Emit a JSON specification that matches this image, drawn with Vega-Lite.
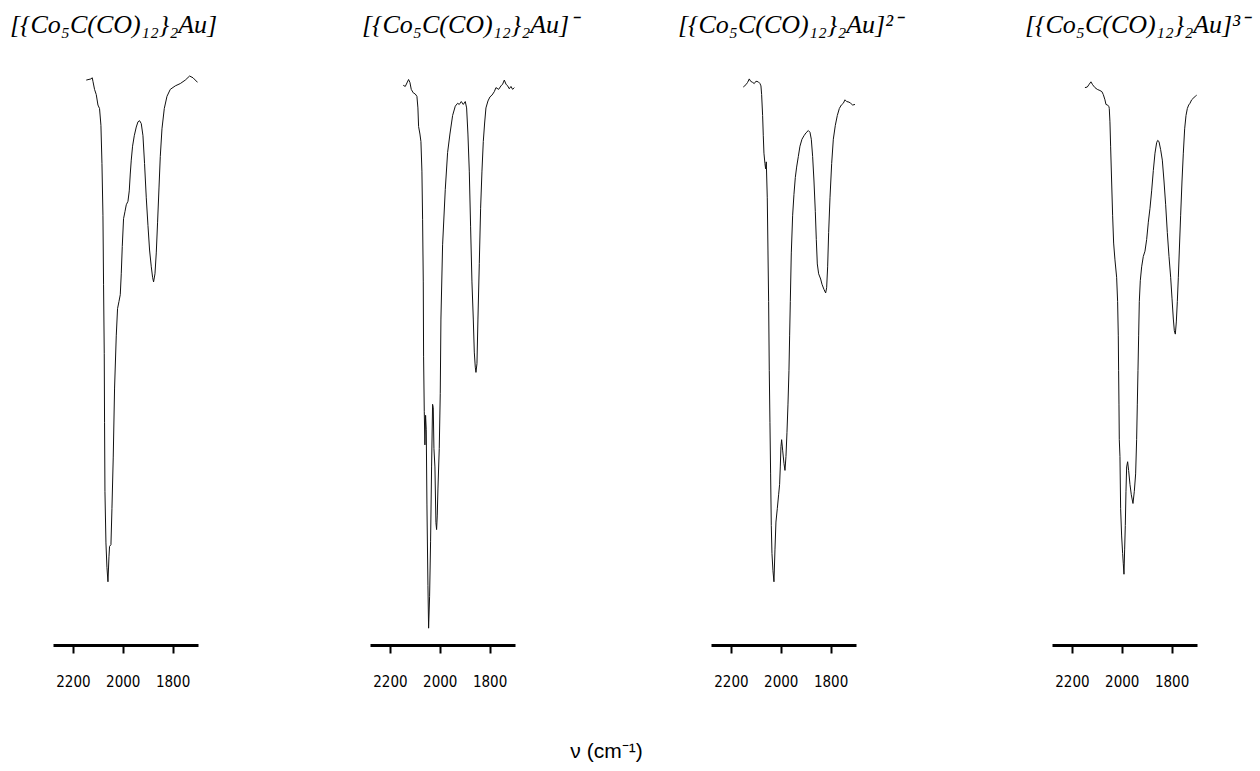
{
  "$schema": "https://vega.github.io/schema/vega-lite/v6.json",
  "background": "white",
  "padding": {"left": 10, "top": 12, "right": 5, "bottom": 5},
  "bounds": "flush",
  "spacing": 0,
  "title": {"text": "ν (cm⁻¹)", "orient": "bottom", "anchor": "middle", "frame": "bounds", "font": "Liberation Sans", "fontSize": 21, "fontStyle": "normal", "fontWeight": "normal", "color": "black", "offset": 52, "dx": -23},
  "config": {
    "view": {"stroke": null},
    "title": {"font": "Liberation Serif", "fontStyle": "italic", "fontWeight": "normal", "fontSize": 26, "color": "black", "anchor": "start", "frame": "group", "offset": 27},
    "axisX": {"domainColor": "black", "domainWidth": 3, "tickColor": "black", "tickWidth": 2, "tickSize": 8, "labelFont": "DejaVu Sans Condensed, Liberation Sans Narrow, Arial Narrow, Liberation Sans, sans-serif", "labelFontSize": 15, "labelColor": "black", "labelPadding": 21, "format": "d", "grid": false, "values": [2200, 2000, 1800], "title": null}
  },
  "data": {"values": [
    {"p":1,"wn":2146.6,"t":97.4},{"p":1,"wn":2127.7,"t":97.6},{"p":1,"wn":2122.5,"t":97.8},{"p":1,"wn":2119.7,"t":97.2},{"p":1,"wn":2113.3,"t":95.8},{"p":1,"wn":2106.4,"t":94.9},{"p":1,"wn":2099.6,"t":93.1},{"p":1,"wn":2093.2,"t":92.5},{"p":1,"wn":2087.6,"t":89.6},{"p":1,"wn":2083.5,"t":83.0},{"p":1,"wn":2079.5,"t":74.1},{"p":1,"wn":2077.1,"t":62.2},{"p":1,"wn":2074.3,"t":50.3},{"p":1,"wn":2073.1,"t":38.4},{"p":1,"wn":2071.5,"t":26.5},{"p":1,"wn":2067.5,"t":17.6},{"p":1,"wn":2063.5,"t":13.4},{"p":1,"wn":2059.4,"t":10.9},{"p":1,"wn":2055.4,"t":15.2},{"p":1,"wn":2053.0,"t":17.0},{"p":1,"wn":2047.4,"t":17.3},{"p":1,"wn":2043.4,"t":23.5},{"p":1,"wn":2038.2,"t":32.4},{"p":1,"wn":2032.9,"t":44.3},{"p":1,"wn":2026.1,"t":53.3},{"p":1,"wn":2020.9,"t":58.0},{"p":1,"wn":2015.3,"t":59.2},{"p":1,"wn":2010.0,"t":60.4},{"p":1,"wn":2006.0,"t":64.0},{"p":1,"wn":2002.0,"t":68.7},{"p":1,"wn":1996.8,"t":73.5},{"p":1,"wn":1991.2,"t":74.7},{"p":1,"wn":1985.9,"t":75.9},{"p":1,"wn":1979.1,"t":76.5},{"p":1,"wn":1973.9,"t":78.3},{"p":1,"wn":1969.9,"t":81.2},{"p":1,"wn":1965.9,"t":83.6},{"p":1,"wn":1960.6,"t":86.0},{"p":1,"wn":1953.8,"t":87.8},{"p":1,"wn":1945.8,"t":89.3},{"p":1,"wn":1939.0,"t":90.2},{"p":1,"wn":1932.5,"t":90.4},{"p":1,"wn":1925.7,"t":89.9},{"p":1,"wn":1918.9,"t":87.8},{"p":1,"wn":1912.5,"t":83.0},{"p":1,"wn":1905.6,"t":77.1},{"p":1,"wn":1898.8,"t":72.3},{"p":1,"wn":1892.4,"t":68.1},{"p":1,"wn":1885.5,"t":65.2},{"p":1,"wn":1880.3,"t":63.4},{"p":1,"wn":1876.3,"t":62.6},{"p":1,"wn":1870.7,"t":64.0},{"p":1,"wn":1865.5,"t":67.6},{"p":1,"wn":1860.2,"t":72.9},{"p":1,"wn":1854.6,"t":78.8},{"p":1,"wn":1849.4,"t":84.2},{"p":1,"wn":1842.6,"t":89.0},{"p":1,"wn":1833.3,"t":92.5},{"p":1,"wn":1822.5,"t":94.6},{"p":1,"wn":1809.2,"t":95.8},{"p":1,"wn":1789.2,"t":96.4},{"p":1,"wn":1769.1,"t":96.8},{"p":1,"wn":1749.0,"t":97.4},{"p":1,"wn":1731.7,"t":98.1},{"p":1,"wn":1718.1,"t":97.8},{"p":1,"wn":1699.6,"t":97.0},
    {"p":2,"wn":2146.6,"t":96.5},{"p":2,"wn":2138.5,"t":96.3},{"p":2,"wn":2131.8,"t":96.9},{"p":2,"wn":2125.2,"t":97.5},{"p":2,"wn":2119.8,"t":97.0},{"p":2,"wn":2114.4,"t":95.8},{"p":2,"wn":2106.4,"t":95.2},{"p":2,"wn":2098.4,"t":95.0},{"p":2,"wn":2091.7,"t":94.6},{"p":2,"wn":2087.7,"t":92.6},{"p":2,"wn":2085.0,"t":89.4},{"p":2,"wn":2079.6,"t":88.1},{"p":2,"wn":2075.6,"t":86.8},{"p":2,"wn":2071.6,"t":81.7},{"p":2,"wn":2068.9,"t":73.4},{"p":2,"wn":2066.2,"t":62.6},{"p":2,"wn":2064.9,"t":49.8},{"p":2,"wn":2062.2,"t":40.3},{"p":2,"wn":2059.6,"t":34.5},{"p":2,"wn":2056.9,"t":39.6},{"p":2,"wn":2054.2,"t":37.1},{"p":2,"wn":2051.5,"t":24.3},{"p":2,"wn":2047.5,"t":10.3},{"p":2,"wn":2044.8,"t":2.9},{"p":2,"wn":2040.8,"t":8.4},{"p":2,"wn":2036.8,"t":17.9},{"p":2,"wn":2032.8,"t":30.7},{"p":2,"wn":2028.8,"t":41.5},{"p":2,"wn":2026.1,"t":40.9},{"p":2,"wn":2023.4,"t":33.9},{"p":2,"wn":2019.4,"t":30.7},{"p":2,"wn":2015.4,"t":21.1},{"p":2,"wn":2012.7,"t":19.9},{"p":2,"wn":2010.0,"t":22.4},{"p":2,"wn":2007.3,"t":26.9},{"p":2,"wn":2002.0,"t":33.9},{"p":2,"wn":1998.0,"t":43.4},{"p":2,"wn":1995.3,"t":56.2},{"p":2,"wn":1988.6,"t":69.0},{"p":2,"wn":1977.9,"t":78.5},{"p":2,"wn":1968.5,"t":84.9},{"p":2,"wn":1959.2,"t":88.1},{"p":2,"wn":1948.4,"t":91.3},{"p":2,"wn":1937.7,"t":92.9},{"p":2,"wn":1928.4,"t":93.4},{"p":2,"wn":1921.7,"t":93.2},{"p":2,"wn":1913.6,"t":93.7},{"p":2,"wn":1905.6,"t":93.2},{"p":2,"wn":1897.6,"t":93.7},{"p":2,"wn":1892.2,"t":92.6},{"p":2,"wn":1886.9,"t":88.1},{"p":2,"wn":1881.5,"t":81.7},{"p":2,"wn":1876.2,"t":72.1},{"p":2,"wn":1870.8,"t":62.6},{"p":2,"wn":1865.4,"t":56.2},{"p":2,"wn":1861.4,"t":50.5},{"p":2,"wn":1857.4,"t":47.9},{"p":2,"wn":1854.7,"t":47.0},{"p":2,"wn":1850.7,"t":48.5},{"p":2,"wn":1846.7,"t":56.2},{"p":2,"wn":1841.3,"t":65.8},{"p":2,"wn":1836.0,"t":75.3},{"p":2,"wn":1830.6,"t":81.7},{"p":2,"wn":1825.3,"t":86.8},{"p":2,"wn":1819.9,"t":90.0},{"p":2,"wn":1814.6,"t":92.6},{"p":2,"wn":1806.5,"t":93.8},{"p":2,"wn":1798.5,"t":94.5},{"p":2,"wn":1790.5,"t":94.8},{"p":2,"wn":1781.1,"t":95.4},{"p":2,"wn":1774.4,"t":96.1},{"p":2,"wn":1763.7,"t":95.8},{"p":2,"wn":1754.3,"t":96.4},{"p":2,"wn":1747.6,"t":96.7},{"p":2,"wn":1740.9,"t":97.4},{"p":2,"wn":1734.2,"t":96.7},{"p":2,"wn":1727.6,"t":96.4},{"p":2,"wn":1720.9,"t":95.9},{"p":2,"wn":1714.2,"t":96.3},{"p":2,"wn":1707.5,"t":95.8},{"p":2,"wn":1700.8,"t":96.1},
    {"p":3,"wn":2150.5,"t":96.2},{"p":3,"wn":2139.8,"t":96.6},{"p":3,"wn":2133.1,"t":97.0},{"p":3,"wn":2126.4,"t":97.6},{"p":3,"wn":2121.0,"t":97.2},{"p":3,"wn":2113.0,"t":97.0},{"p":3,"wn":2106.3,"t":96.8},{"p":3,"wn":2099.6,"t":97.2},{"p":3,"wn":2090.2,"t":97.1},{"p":3,"wn":2083.5,"t":96.8},{"p":3,"wn":2079.5,"t":96.4},{"p":3,"wn":2076.8,"t":94.9},{"p":3,"wn":2072.8,"t":91.3},{"p":3,"wn":2070.1,"t":87.8},{"p":3,"wn":2067.5,"t":84.8},{"p":3,"wn":2063.5,"t":83.0},{"p":3,"wn":2060.8,"t":82.1},{"p":3,"wn":2058.1,"t":83.3},{"p":3,"wn":2054.1,"t":77.1},{"p":3,"wn":2051.4,"t":68.1},{"p":3,"wn":2048.7,"t":59.2},{"p":3,"wn":2046.1,"t":47.3},{"p":3,"wn":2043.4,"t":38.4},{"p":3,"wn":2040.7,"t":29.5},{"p":3,"wn":2038.0,"t":20.6},{"p":3,"wn":2035.3,"t":15.8},{"p":3,"wn":2031.3,"t":12.8},{"p":3,"wn":2027.3,"t":10.9},{"p":3,"wn":2023.3,"t":16.4},{"p":3,"wn":2019.3,"t":21.2},{"p":3,"wn":2013.9,"t":23.5},{"p":3,"wn":2008.6,"t":25.9},{"p":3,"wn":2004.6,"t":27.7},{"p":3,"wn":2001.9,"t":30.7},{"p":3,"wn":1999.2,"t":34.2},{"p":3,"wn":1996.5,"t":35.4},{"p":3,"wn":1992.5,"t":33.6},{"p":3,"wn":1987.1,"t":31.3},{"p":3,"wn":1983.1,"t":30.1},{"p":3,"wn":1979.1,"t":32.5},{"p":3,"wn":1975.1,"t":36.6},{"p":3,"wn":1971.1,"t":41.4},{"p":3,"wn":1967.1,"t":47.3},{"p":3,"wn":1964.4,"t":53.3},{"p":3,"wn":1961.7,"t":59.2},{"p":3,"wn":1957.7,"t":67.6},{"p":3,"wn":1952.3,"t":74.1},{"p":3,"wn":1947.0,"t":77.7},{"p":3,"wn":1941.6,"t":80.6},{"p":3,"wn":1936.3,"t":82.4},{"p":3,"wn":1929.6,"t":84.2},{"p":3,"wn":1922.9,"t":86.0},{"p":3,"wn":1914.9,"t":87.2},{"p":3,"wn":1906.8,"t":87.8},{"p":3,"wn":1898.8,"t":88.3},{"p":3,"wn":1889.4,"t":88.7},{"p":3,"wn":1882.7,"t":88.4},{"p":3,"wn":1877.4,"t":87.2},{"p":3,"wn":1872.0,"t":84.2},{"p":3,"wn":1866.7,"t":80.0},{"p":3,"wn":1861.3,"t":74.7},{"p":3,"wn":1857.3,"t":69.9},{"p":3,"wn":1853.3,"t":65.7},{"p":3,"wn":1847.9,"t":64.0},{"p":3,"wn":1839.9,"t":63.1},{"p":3,"wn":1834.5,"t":62.2},{"p":3,"wn":1826.5,"t":61.3},{"p":3,"wn":1819.8,"t":60.7},{"p":3,"wn":1815.8,"t":61.6},{"p":3,"wn":1811.8,"t":65.2},{"p":3,"wn":1807.8,"t":71.1},{"p":3,"wn":1802.4,"t":77.1},{"p":3,"wn":1795.7,"t":83.0},{"p":3,"wn":1789.0,"t":87.2},{"p":3,"wn":1781.0,"t":89.6},{"p":3,"wn":1773.0,"t":91.3},{"p":3,"wn":1764.9,"t":92.5},{"p":3,"wn":1756.9,"t":93.1},{"p":3,"wn":1748.9,"t":93.4},{"p":3,"wn":1742.2,"t":94.0},{"p":3,"wn":1735.5,"t":93.7},{"p":3,"wn":1726.1,"t":93.6},{"p":3,"wn":1719.4,"t":93.4},{"p":3,"wn":1711.4,"t":93.1},{"p":3,"wn":1702.0,"t":93.2},
    {"p":4,"wn":2147.8,"t":96.1},{"p":4,"wn":2138.4,"t":96.2},{"p":4,"wn":2130.4,"t":96.7},{"p":4,"wn":2123.7,"t":97.1},{"p":4,"wn":2117.0,"t":96.6},{"p":4,"wn":2107.6,"t":96.1},{"p":4,"wn":2098.2,"t":95.8},{"p":4,"wn":2087.5,"t":95.6},{"p":4,"wn":2079.5,"t":95.4},{"p":4,"wn":2074.1,"t":94.9},{"p":4,"wn":2067.5,"t":94.0},{"p":4,"wn":2063.4,"t":93.2},{"p":4,"wn":2056.7,"t":93.1},{"p":4,"wn":2051.4,"t":92.8},{"p":4,"wn":2050.1,"t":92.5},{"p":4,"wn":2047.4,"t":90.2},{"p":4,"wn":2044.7,"t":86.0},{"p":4,"wn":2040.7,"t":80.0},{"p":4,"wn":2036.7,"t":74.1},{"p":4,"wn":2032.6,"t":69.3},{"p":4,"wn":2027.3,"t":66.4},{"p":4,"wn":2020.6,"t":63.4},{"p":4,"wn":2016.6,"t":59.2},{"p":4,"wn":2013.9,"t":53.3},{"p":4,"wn":2012.6,"t":47.3},{"p":4,"wn":2011.2,"t":41.4},{"p":4,"wn":2009.9,"t":35.4},{"p":4,"wn":2007.2,"t":32.5},{"p":4,"wn":2004.5,"t":23.5},{"p":4,"wn":2000.5,"t":18.8},{"p":4,"wn":1996.5,"t":15.8},{"p":4,"wn":1993.8,"t":14.0},{"p":4,"wn":1991.1,"t":12.2},{"p":4,"wn":1988.5,"t":16.4},{"p":4,"wn":1985.8,"t":20.6},{"p":4,"wn":1983.1,"t":26.5},{"p":4,"wn":1980.4,"t":30.7},{"p":4,"wn":1976.4,"t":31.6},{"p":4,"wn":1972.4,"t":30.1},{"p":4,"wn":1967.1,"t":27.7},{"p":4,"wn":1961.7,"t":25.9},{"p":4,"wn":1955.0,"t":24.4},{"p":4,"wn":1949.6,"t":26.5},{"p":4,"wn":1944.3,"t":29.5},{"p":4,"wn":1940.3,"t":35.4},{"p":4,"wn":1937.6,"t":41.4},{"p":4,"wn":1934.9,"t":47.3},{"p":4,"wn":1932.2,"t":53.3},{"p":4,"wn":1929.6,"t":59.2},{"p":4,"wn":1925.6,"t":62.8},{"p":4,"wn":1920.2,"t":65.2},{"p":4,"wn":1913.5,"t":67.0},{"p":4,"wn":1906.8,"t":67.9},{"p":4,"wn":1900.1,"t":69.9},{"p":4,"wn":1893.4,"t":72.9},{"p":4,"wn":1886.7,"t":75.3},{"p":4,"wn":1880.0,"t":78.3},{"p":4,"wn":1873.3,"t":81.8},{"p":4,"wn":1866.6,"t":84.8},{"p":4,"wn":1860.0,"t":86.6},{"p":4,"wn":1855.9,"t":87.0},{"p":4,"wn":1850.6,"t":86.8},{"p":4,"wn":1843.9,"t":85.4},{"p":4,"wn":1837.2,"t":83.6},{"p":4,"wn":1830.5,"t":80.0},{"p":4,"wn":1823.8,"t":75.9},{"p":4,"wn":1817.1,"t":71.1},{"p":4,"wn":1810.4,"t":67.0},{"p":4,"wn":1803.7,"t":63.4},{"p":4,"wn":1798.4,"t":59.8},{"p":4,"wn":1793.0,"t":56.2},{"p":4,"wn":1789.0,"t":54.2},{"p":4,"wn":1785.0,"t":53.6},{"p":4,"wn":1781.0,"t":55.7},{"p":4,"wn":1777.0,"t":59.2},{"p":4,"wn":1772.9,"t":63.4},{"p":4,"wn":1768.9,"t":68.1},{"p":4,"wn":1763.6,"t":74.1},{"p":4,"wn":1758.2,"t":80.0},{"p":4,"wn":1752.9,"t":84.8},{"p":4,"wn":1747.5,"t":89.0},{"p":4,"wn":1742.1,"t":91.3},{"p":4,"wn":1736.8,"t":92.5},{"p":4,"wn":1731.4,"t":93.1},{"p":4,"wn":1726.1,"t":93.4},{"p":4,"wn":1719.4,"t":94.0},{"p":4,"wn":1710.0,"t":94.4},{"p":4,"wn":1704.7,"t":94.6},{"p":4,"wn":1699.3,"t":94.8}
  ]},
  "hconcat": [
    {
      "width": 145, "height": 580,
      "title": {"text": "[{Co₅C(CO)₁₂}₂Au]", "dx": -43},
      "transform": [{"filter": "datum.p == 1"}],
      "mark": {"type": "line", "color": "#111", "strokeWidth": 1, "clip": true},
      "encoding": {
        "x": {"field": "wn", "type": "quantitative", "scale": {"domain": [1698, 2280], "reverse": true, "nice": false, "zero": false}},
        "y": {"field": "t", "type": "quantitative", "scale": {"domain": [0, 100], "nice": false}, "axis": null}
      }
    },
    {
      "width": 172, "height": 580,
      "data": {"values": []},
      "mark": {"type": "point", "opacity": 0},
      "encoding": {}
    },
    {
      "width": 145, "height": 580,
      "title": {"text": "[{Co₅C(CO)₁₂}₂Au]⁻", "dx": -8},
      "transform": [{"filter": "datum.p == 2"}],
      "mark": {"type": "line", "color": "#111", "strokeWidth": 1, "clip": true},
      "encoding": {
        "x": {"field": "wn", "type": "quantitative", "scale": {"domain": [1698, 2280], "reverse": true, "nice": false, "zero": false}},
        "y": {"field": "t", "type": "quantitative", "scale": {"domain": [0, 100], "nice": false}, "axis": null}
      }
    },
    {
      "width": 196, "height": 580,
      "data": {"values": []},
      "mark": {"type": "point", "opacity": 0},
      "encoding": {}
    },
    {
      "width": 145, "height": 580,
      "title": {"text": "[{Co₅C(CO)₁₂}₂Au]²⁻", "dx": -33},
      "transform": [{"filter": "datum.p == 3"}],
      "mark": {"type": "line", "color": "#111", "strokeWidth": 1, "clip": true},
      "encoding": {
        "x": {"field": "wn", "type": "quantitative", "scale": {"domain": [1698, 2280], "reverse": true, "nice": false, "zero": false}},
        "y": {"field": "t", "type": "quantitative", "scale": {"domain": [0, 100], "nice": false}, "axis": null}
      }
    },
    {
      "width": 196, "height": 580,
      "data": {"values": []},
      "mark": {"type": "point", "opacity": 0},
      "encoding": {}
    },
    {
      "width": 145, "height": 580,
      "title": {"text": "[{Co₅C(CO)₁₂}₂Au]³⁻", "dx": -27},
      "transform": [{"filter": "datum.p == 4"}],
      "mark": {"type": "line", "color": "#111", "strokeWidth": 1, "clip": true},
      "encoding": {
        "x": {"field": "wn", "type": "quantitative", "scale": {"domain": [1698, 2280], "reverse": true, "nice": false, "zero": false}},
        "y": {"field": "t", "type": "quantitative", "scale": {"domain": [0, 100], "nice": false}, "axis": null}
      }
    }
  ]
}
